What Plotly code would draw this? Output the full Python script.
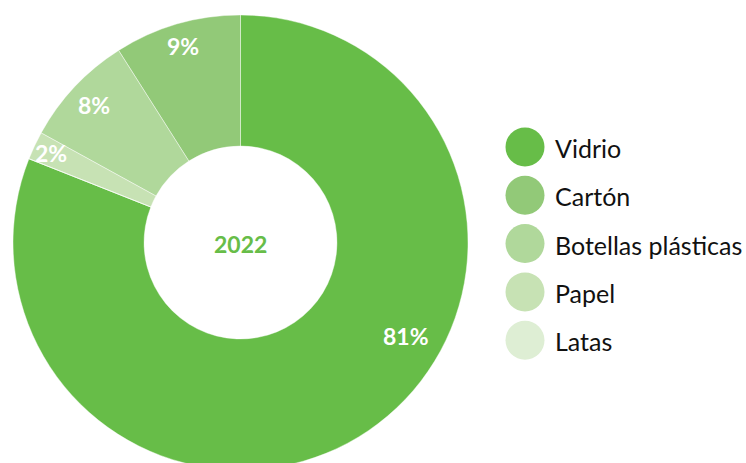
import math
import plotly.graph_objects as go

# --- data -------------------------------------------------------------
categories = ["Vidrio", "Cartón", "Botellas plásticas", "Papel", "Latas"]
shares = [81, 9, 8, 2, 0]          # percent of collected material
year_label = "2022"

# --- style ------------------------------------------------------------
colors = ["#67bd48", "#92c978", "#b0d89b", "#c7e2b4", "#deeed4"]
W, H = 746, 472                     # canvas; donut runs slightly past the bottom
cx, cy, R = 240.5, 242.5, 227.5     # donut centre / outer radius in px
HOLE = 0.424
FONT = "Lato, 'Open Sans', sans-serif"

# where along each slice (fraction of its sweep) and how far out its label sits
label_sweep_frac = [0.41, 0.5, 0.5, 0.5, 0.5]
label_radius_frac = [0.835, 0.9, 0.885, 0.92, 0.92]

def px_to_paper(x, y):
    return x / W, 1 - y / H

fig = go.Figure(
    go.Pie(
        labels=categories,
        values=shares,
        sort=False,
        direction="counterclockwise",
        rotation=0,
        hole=HOLE,
        marker=dict(colors=colors, line=dict(color="rgba(255,255,255,0.6)", width=0.7)),
        textinfo="none",
        hoverinfo="label+percent",
        showlegend=False,
        domain=dict(
            x=[(cx - R) / W, (cx + R) / W],
            y=[1 - (cy + R) / H, 1 - (cy - R) / H],
        ),
    )
)

annotations = []
shapes = []

# percentage labels, placed along each slice (slices run counter-clockwise from 12 o'clock,
# the first slice sweeping back clockwise from the top)
total = sum(shares)
start = 0.0  # clockwise angle (deg) from 12 o'clock where the current slice begins
for i, (cat, v) in enumerate(zip(categories, shares)):
    sweep = 360.0 * v / total
    if i == 0:
        a0, a1 = 0.0, sweep
        ang = a0 + sweep * label_sweep_frac[i]
        start = 0.0
    else:
        a1 = start
        a0 = start - sweep
        ang = a1 - sweep * label_sweep_frac[i]
        start = a0
    if v <= 0:
        continue
    r = R * label_radius_frac[i]
    t = math.radians(ang)
    x, y = cx + r * math.sin(t), cy - r * math.cos(t)
    px, py = px_to_paper(x, y)
    annotations.append(dict(
        x=px, y=py, xref="paper", yref="paper", xanchor="center", yanchor="middle",
        text=f"<b>{v}%</b>", showarrow=False,
        font=dict(family=FONT, size=23, color="white"),
    ))

# year in the hole
px, py = px_to_paper(cx, cy + 1)
annotations.append(dict(
    x=px, y=py, xref="paper", yref="paper", xanchor="center", yanchor="middle",
    text=f"<b>{year_label}</b>", showarrow=False,
    font=dict(family=FONT, size=23, color=colors[0]),
))

# legend: round swatches with labels
leg_x, leg_y0, leg_dy, leg_r = 525, 147, 48.3, 19.5
for i, (cat, col) in enumerate(zip(categories, colors)):
    y = leg_y0 + i * leg_dy
    x0, y0 = px_to_paper(leg_x - leg_r, y - leg_r)
    x1, y1 = px_to_paper(leg_x + leg_r, y + leg_r)
    shapes.append(dict(type="circle", xref="paper", yref="paper",
                       x0=x0, x1=x1, y0=y1, y1=y0,
                       fillcolor=col, line=dict(width=0)))
    tx, ty = px_to_paper(leg_x + 28, y + 1)
    annotations.append(dict(
        x=tx, y=ty, xref="paper", yref="paper", xanchor="left", yanchor="middle",
        text=cat, showarrow=False,
        font=dict(family=FONT, size=25, color="#111111"),
    ))

fig.update_layout(
    width=W, height=H,
    margin=dict(l=0, r=0, t=0, b=0),
    paper_bgcolor="white", plot_bgcolor="white",
    annotations=annotations, shapes=shapes,
)

fig.write_html(
    "out.html",
    post_script="document.documentElement.style.overflow='hidden';document.body.style.overflow='hidden';",
)
